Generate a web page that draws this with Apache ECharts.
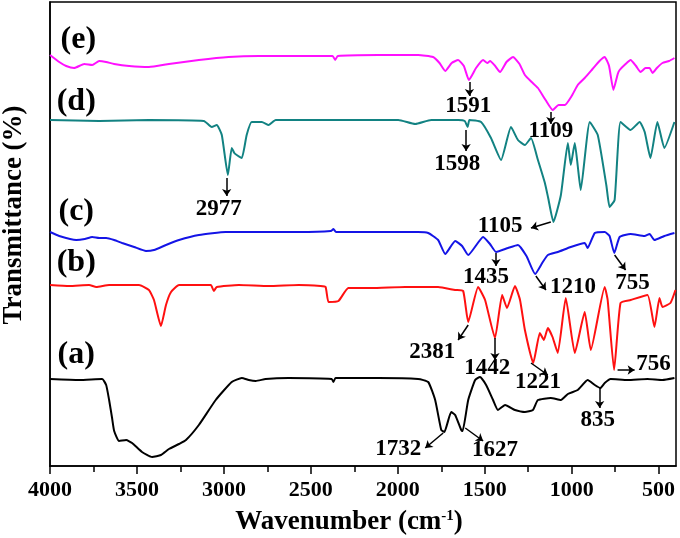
<!DOCTYPE html>
<html>
<head>
<meta charset="utf-8">
<script src="https://cdn.jsdelivr.net/npm/echarts@6/dist/echarts.min.js"></script>
<style>html,body{margin:0;padding:0;background:#fff}#c{width:680px;height:538px}</style>
</head>
<body>
<div id="c"></div>
<script>
// ---- data (x: wavenumber cm-1, y: arbitrary stacked transmittance units) ----
var xMajorTicks = [4000, 3500, 3000, 2500, 2000, 1500, 1000, 500];
var xMinorTicks = [3750, 3250, 2750, 2250, 1750, 1250, 750];

var traceE = [[4000,411],[3947,404],[3907,400],[3861,398],[3803,402],[3757,401],[3717,405],[3677,404],[3631,402],[3545,400],[3431,399],[3316,402],[3144,406],[2973,409],[2800,410],[2570,410],[2375,410],[2360,406],[2345,410],[2112,411],[1883,411],[1797,409],[1760,403],[1727,395],[1690,403],[1653,406],[1620,400],[1591,386],[1550,398],[1509,406],[1485,403],[1469,405],[1440,400],[1412,394],[1375,404],[1337,409],[1300,402],[1269,391],[1230,384],[1194,378],[1150,366],[1109,356],[1075,361],[1039,361],[1000,370],[965,381],[925,388],[880,397],[840,405],[810,409],[785,400],[760,376],[735,392],[724,396],[690,402],[661,406],[630,400],[604,394],[575,398],[552,398],[535,393],[510,398],[478,403],[440,405],[409,408]];

var traceD = [[4000,346],[3717,345],[3431,346],[3115,345],[3070,339],[3041,341],[3012,331],[2977,291],[2955,318],[2940,313],[2926,311],[2897,308],[2869,331],[2840,344],[2782,344],[2742,341],[2702,346],[2341,346],[1997,346],[1900,342],[1808,346],[1653,346],[1615,345],[1598,339],[1588,346],[1521,344],[1464,328],[1406,306],[1349,339],[1309,326],[1269,321],[1234,328],[1194,306],[1154,283],[1135,268],[1105,244],[1062,271],[1022,323],[1005,301],[982,323],[965,300],[948,276],[896,344],[850,331],[800,280],[782,259],[753,266],[719,344],[661,336],[609,344],[580,334],[547,308],[507,344],[467,318],[409,344]];

var traceC = [[4000,234],[3947,230],[3849,226],[3800,227],[3757,229],[3717,228],[3677,228],[3631,226],[3585,223],[3516,219],[3448,215],[3402,216],[3333,221],[3258,226],[3144,231],[2990,234],[2800,234],[2570,234],[2385,235],[2370,237],[2355,234],[2112,234],[1883,234],[1825,233],[1768,226],[1727,212],[1670,225],[1630,220],[1595,211],[1509,229],[1470,222],[1435,214],[1366,218],[1309,221],[1260,210],[1210,192],[1166,204],[1137,211],[1080,214],[1005,219],[925,223],[908,218],[867,233],[810,234],[782,230],[755,213],[724,229],[661,232],[581,230],[552,232],[524,226],[467,230],[409,233]];

var traceB = [[4000,181],[3889,180],[3775,181],[3734,179],[3660,181],[3545,181],[3488,181],[3431,176],[3402,166],[3362,140],[3333,161],[3304,174],[3258,181],[3144,181],[3075,181],[3058,175],[3041,179],[2914,181],[2742,180],[2570,181],[2444,180],[2415,179],[2398,164],[2341,165],[2284,178],[2152,178],[1957,179],[1768,179],[1670,176],[1624,175],[1595,144],[1538,179],[1498,166],[1441,128],[1400,171],[1372,158],[1326,180],[1297,166],[1269,136],[1221,103],[1183,133],[1160,126],[1137,138],[1110,129],[1080,113],[1034,168],[982,113],[925,154],[890,116],[810,179],[793,166],[756,96],[719,163],[661,166],[564,171],[524,139],[495,168],[478,159],[432,163],[403,176]];

var traceA = [[4000,87],[3832,86],[3700,87],[3677,81],[3660,66],[3643,48],[3631,35],[3603,25],[3562,26],[3528,23],[3471,14],[3413,9],[3362,11],[3316,17],[3258,22],[3218,26],[3144,41],[3047,66],[2955,84],[2897,88],[2857,86],[2817,85],[2760,87],[2628,88],[2380,87],[2370,84],[2358,88],[2112,88],[1883,87],[1825,84],[1785,66],[1750,36],[1732,34],[1693,54],[1670,51],[1635,36],[1627,35],[1595,66],[1555,86],[1527,89],[1492,81],[1452,66],[1424,56],[1383,61],[1326,56],[1269,54],[1223,56],[1194,66],[1120,68],[1062,66],[1022,72],[965,76],[908,86],[867,81],[835,78],[810,83],[776,87],[678,86],[564,87],[478,86],[409,88]];

var curveNames = ['(a)', '(b)', '(c)', '(d)', '(e)'];
var curveNameAt = [[3849,111],[3849,203],[3849,254],[3849,364],[3837,426]];

var peakText = ['1591','1109','1598','2977','1105','1435','1210','755','2381','1442','1221','756','835','1732','1627'];
var peakTextAt = [[1595,360],[1120,335],[1658,302],[3030,257],[1412,240],[1492,189],[993,179],[650,183],[1802,114],[1486,98],[1194,84],[529,102],[850,46],[1997,17],[1441,16]];
var arrowFrom = [[1588,384],[1120,354],[1607,336],[2984,288],[1120,244],[1435,213],[1206,190],[753,211],[1595,141],[1441,128],[1234,103],[736,96],[839,78],[1739,33],[1612,38]];
var arrowTo = [[1588,370],[1120,342],[1607,315],[2984,270],[1234,238],[1435,200],[1148,176],[690,196],[1653,126],[1441,106],[1137,91],[638,96],[839,58],[1842,18],[1509,25]];

// ---- chart ----
var chart = echarts.init(document.getElementById('c'), null, {renderer: 'canvas'});
var serif = '"Liberation Serif", "DejaVu Serif", serif';

function lineSeries(data, color) {
  return {
    type: 'line', data: data, showSymbol: false, symbol: 'none', smooth: 0.15,
    lineStyle: {color: color, width: 2}, xAxisIndex: 0, yAxisIndex: 0, z: 3
  };
}

var arrows = arrowFrom.map(function (f, i) { return {coords: [f, arrowTo[i]]}; });

function textSeries(positions, texts, size) {
  return {
    type: 'custom', xAxisIndex: 0, yAxisIndex: 0, silent: true, z: 6,
    data: positions.map(function (p, i) { return [p[0], p[1], i]; }),
    encode: {x: 0, y: 1},
    renderItem: function (params, api) {
      var pt = api.coord([api.value(0), api.value(1)]);
      return {
        type: 'text', x: pt[0], y: pt[1],
        style: {text: texts[api.value(2)], fill: '#000', font: 'bold ' + size + 'px ' + serif, align: 'center', verticalAlign: 'middle'}
      };
    }
  };
}

var option = {
  animation: false,
  backgroundColor: '#fff',
  grid: {left: 50, right: 2, top: 2, bottom: 72, show: true, borderColor: '#000', borderWidth: 1.5, backgroundColor: 'transparent'},
  xAxis: [{
    type: 'value', inverse: true, min: 400, max: 4000, position: 'bottom',
    axisLine: {show: true, onZero: false, lineStyle: {color: '#000', width: 1.5}},
    axisTick: {show: true, inside: false, length: 8, customValues: xMajorTicks, lineStyle: {color: '#000', width: 1.5}},
    axisLabel: {show: true, customValues: xMajorTicks, margin: 13, color: '#000', fontFamily: serif, fontWeight: 'bold', fontSize: 22,
      formatter: function (v) { return String(v); }},
    splitLine: {show: false}
  }, {
    type: 'value', inverse: true, min: 400, max: 4000, position: 'bottom', offset: 0,
    axisLine: {show: false, onZero: false},
    axisTick: {show: true, inside: false, length: 6, customValues: xMinorTicks, lineStyle: {color: '#000', width: 1.5}},
    axisLabel: {show: false},
    splitLine: {show: false}
  }],
  yAxis: [{
    type: 'value', min: 0, max: 464,
    axisLine: {show: true, lineStyle: {color: '#000', width: 1.5}},
    axisTick: {show: false}, axisLabel: {show: false}, splitLine: {show: false}
  }],
  series: [
    lineSeries(traceA, '#000000'),
    lineSeries(traceB, '#ff1010'),
    lineSeries(traceC, '#1414e6'),
    lineSeries(traceD, '#128282'),
    lineSeries(traceE, '#ff10ff'),
    {
      type: 'lines', coordinateSystem: 'cartesian2d', xAxisIndex: 0, yAxisIndex: 0,
      data: arrows, symbol: ['none', 'arrow'], symbolSize: 7,
      lineStyle: {color: '#000', width: 1.5, opacity: 1}, z: 5
    },
    textSeries(peakTextAt, peakText, 23),
    textSeries(curveNameAt, curveNames, 32)
  ],
  graphic: [
    {
      type: 'text', x: 14, y: 215, rotation: Math.PI / 2,
      style: {text: 'Transmittance (%)', fill: '#000', font: 'bold 27px ' + serif, align: 'center', verticalAlign: 'middle'}
    },
    {
      type: 'text', x: 349, y: 522,
      style: {
        text: '{a|Wavenumber (cm}{s|-1}{a|)}', align: 'center', verticalAlign: 'middle',
        rich: {
          a: {fontFamily: serif, fontWeight: 'bold', fontSize: 27, fill: '#000', color: '#000'},
          s: {fontFamily: serif, fontWeight: 'bold', fontSize: 15, fill: '#000', color: '#000', verticalAlign: 'top', padding: [0, 0, 12, 0]}
        }
      }
    }
  ]
};
chart.setOption(option);
</script>
</body>
</html>
